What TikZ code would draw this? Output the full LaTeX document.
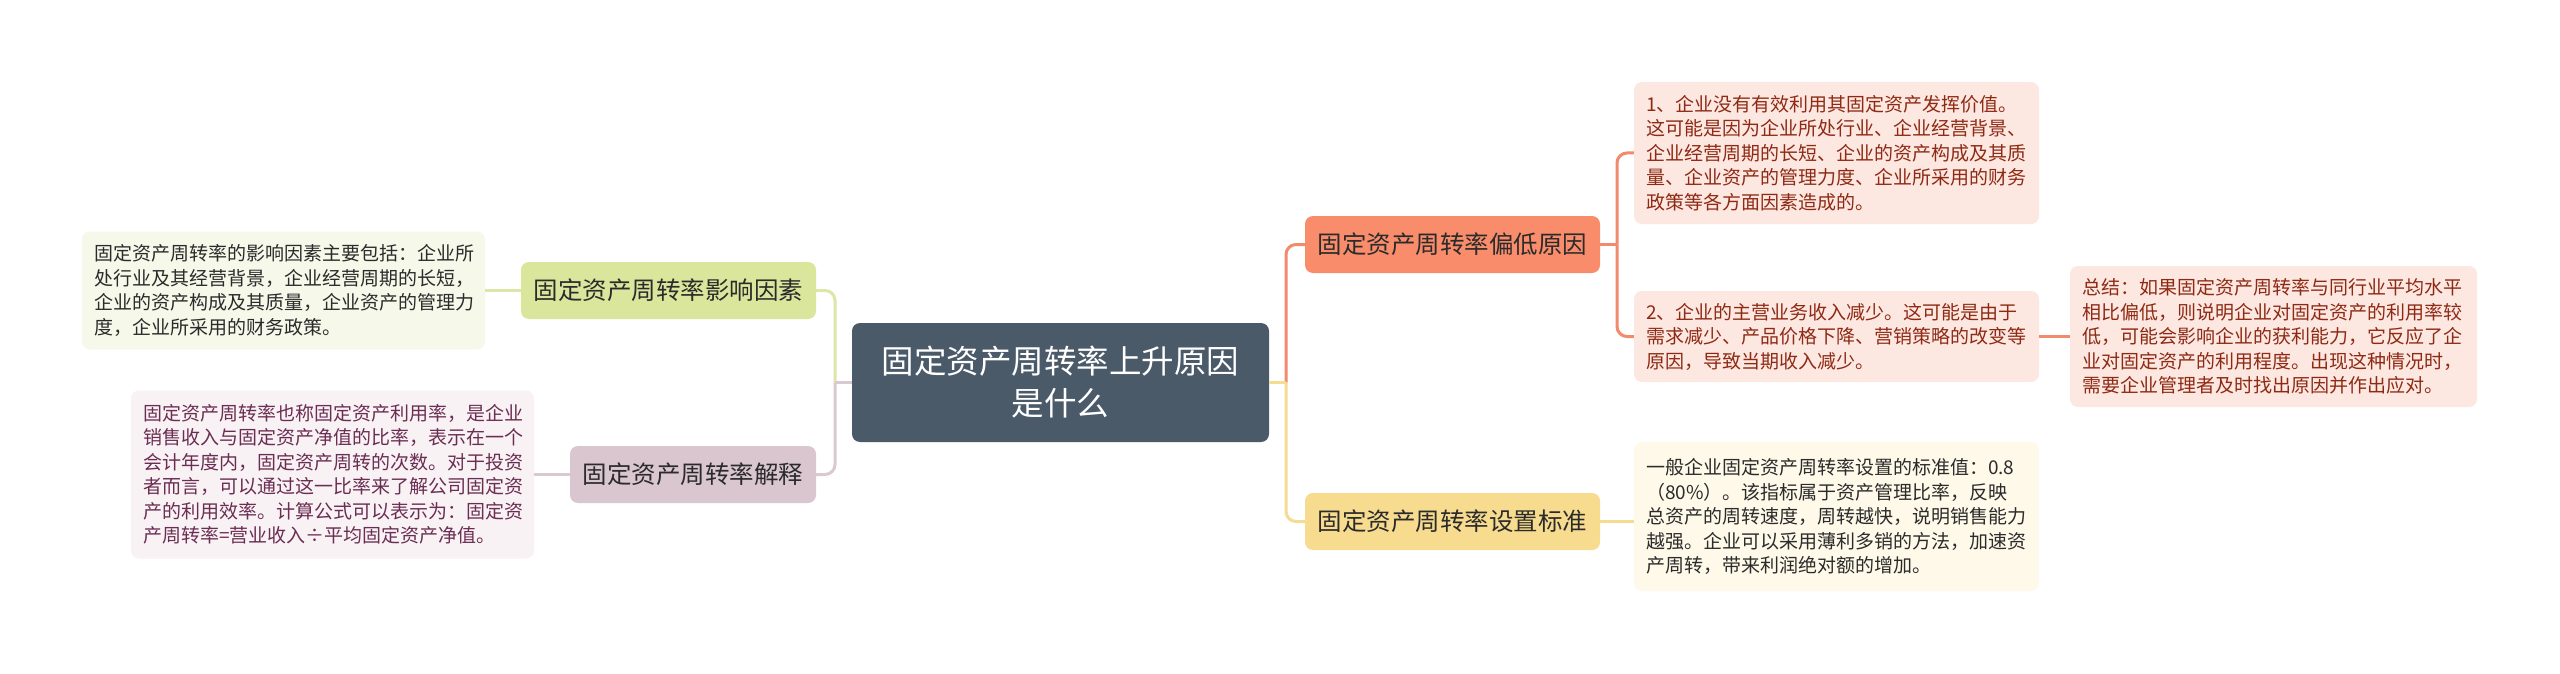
\documentclass[tikz,border=0pt]{standalone}
\usepackage{fontspec}
\setmainfont{Noto Sans CJK SC}
\definecolor{rootfill}{HTML}{4B5A69}
\definecolor{gfill}{HTML}{DAE69C}
\definecolor{gline}{HTML}{DCE6A8}
\definecolor{gleaf}{HTML}{F6F8EA}
\definecolor{pfill}{HTML}{D9C6CF}
\definecolor{pline}{HTML}{D9C9D0}
\definecolor{pleaf}{HTML}{F8F2F5}
\definecolor{ptext}{HTML}{6B2D52}
\definecolor{ofill}{HTML}{F98C6B}
\definecolor{oline}{HTML}{F28A6C}
\definecolor{oleaf}{HTML}{FDE7E1}
\definecolor{otext}{HTML}{8E2A14}
\definecolor{yfill}{HTML}{F7DC8F}
\definecolor{yline}{HTML}{F5DC93}
\definecolor{yleaf}{HTML}{FEF9E9}
\definecolor{darktext}{HTML}{2B2B2B}
\begin{document}
\begin{tikzpicture}[x=1pt,y=-1pt,
  box/.style={rounded corners=8pt, inner sep=0pt, draw=none},
  leafbox/.style={box, align=left, font=\fontsize{19}{24.5}\selectfont},
  mainbox/.style={box, align=center, minimum width=295pt, minimum height=57pt,
    font=\fontsize{24.5}{30}\selectfont, text=darktext},
  conn/.style={line width=3pt},
  rconn/.style={line width=3pt, rounded corners=10pt}]
\useasboundingbox (0,0) rectangle (2560,674);
\fill[white] (0,0) rectangle (2560,674);

% root
\node[box, fill=rootfill, text=white, align=center, minimum width=417pt, minimum height=119pt,
  font=\fontsize{32.5}{42}\selectfont] (root) at (1060.5,382.5) {固定资产周转率上升原因\\是什么};

% left branches
\node[mainbox, fill=gfill] (green) at (668.5,290.5) {固定资产周转率影响因素};
\node[leafbox, fill=gleaf, text=darktext, minimum width=403pt, minimum height=118pt, text width=379pt] (gleafn) at (283.5,290.5)
{固定资产周转率的影响因素主要包括：企业所\\处行业及其经营背景，企业经营周期的长短，\\企业的资产构成及其质量，企业资产的管理力\\度，企业所采用的财务政策。};

\node[mainbox, fill=pfill, minimum width=246pt] (gray) at (693,474.5) {固定资产周转率解释};
\node[leafbox, fill=pleaf, text=ptext, minimum width=403pt, minimum height=168pt, text width=379pt] (pleafn) at (332.5,474.5)
{固定资产周转率也称固定资产利用率，是企业\\销售收入与固定资产净值的比率，表示在一个\\会计年度内，固定资产周转的次数。对于投资\\者而言，可以通过这一比率来了解公司固定资\\产的利用效率。计算公式可以表示为：固定资\\产周转率=营业收入÷平均固定资产净值。};

% right branches
\node[mainbox, fill=ofill] (orange) at (1452.5,244.5) {固定资产周转率偏低原因};
\node[leafbox, fill=oleaf, text=otext, minimum width=405pt, minimum height=142pt, text width=381pt] (leafa) at (1836.5,153)
{1、企业没有有效利用其固定资产发挥价值。\\这可能是因为企业所处行业、企业经营背景、\\企业经营周期的长短、企业的资产构成及其质\\量、企业资产的管理力度、企业所采用的财务\\政策等各方面因素造成的。};
\node[leafbox, fill=oleaf, text=otext, minimum width=405pt, minimum height=91pt, text width=381pt] (leafb) at (1836.5,336.5)
{2、企业的主营业务收入减少。这可能是由于\\需求减少、产品价格下降、营销策略的改变等\\原因，导致当期收入减少。};
\node[leafbox, fill=oleaf, text=otext, minimum width=407pt, minimum height=141pt, text width=383pt] (summary) at (2273.5,336.5)
{总结：如果固定资产周转率与同行业平均水平\\相比偏低，则说明企业对固定资产的利用率较\\低，可能会影响企业的获利能力，它反应了企\\业对固定资产的利用程度。出现这种情况时，\\需要企业管理者及时找出原因并作出应对。};

\node[mainbox, fill=yfill] (yellow) at (1452.5,521.5) {固定资产周转率设置标准};
\node[leafbox, fill=yleaf, text=darktext, minimum width=405pt, minimum height=149pt, text width=381pt] (yleafn) at (1836.5,516.5)
{一般企业固定资产周转率设置的标准值：0.8\\（80\%）。该指标属于资产管理比率，反映\\总资产的周转速度，周转越快，说明销售能力\\越强。企业可以采用薄利多销的方法，加速资\\产周转，带来利润绝对额的增加。};

% junctions
\coordinate (jl) at (835,382.5);
\coordinate (jr) at (1286,382.5);
\coordinate (jo) at (1617,244.5);

% left connectors
\draw[rconn, gline] (jl) |- (green.east);
\draw[rconn, pline] (jl) |- (gray.east);
\draw[conn, pline] (root.west) -- (jl);
\draw[conn, gline] (green.west) -- (gleafn.east);
\draw[conn, pline] (gray.west) -- (pleafn.east);

% right connectors
\draw[rconn, oline] (jr) |- (orange.west);
\draw[rconn, yline] (jr) |- (yellow.west);
\draw[conn, yline] (root.east) -- (jr);
\draw[conn, oline] (orange.east) -- (jo);
\draw[rconn, oline] (jo) |- (leafa.west);
\draw[rconn, oline] (jo) |- (leafb.west);
\draw[conn, oline] (leafb.east) -- (summary.west);
\draw[conn, yline] (yellow.east) -- (yellow.east -| yleafn.west);
\end{tikzpicture}
\end{document}
